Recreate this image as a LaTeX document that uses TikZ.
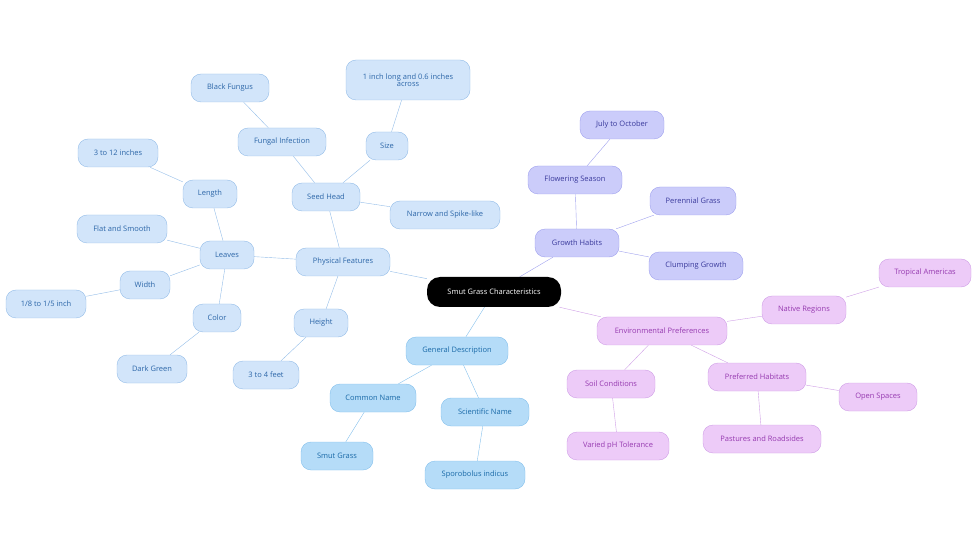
\documentclass[tikz,border=0pt]{standalone}
\usepackage{fontspec}
\setmainfont{Open Sans}
\usetikzlibrary{backgrounds}
\definecolor{phyfill}{HTML}{D2E5FA}\definecolor{phydraw}{HTML}{94BDE8}\definecolor{phytext}{HTML}{2C66A8}
\definecolor{genfill}{HTML}{B5DCF8}\definecolor{gendraw}{HTML}{84C0EC}\definecolor{gentext}{HTML}{1A6AA8}
\definecolor{grofill}{HTML}{CBCCFA}\definecolor{grodraw}{HTML}{A0A1EE}\definecolor{grotext}{HTML}{3A3A9C}
\definecolor{envfill}{HTML}{EDCBF8}\definecolor{envdraw}{HTML}{CF9FE6}\definecolor{envtext}{HTML}{963AB0}
\begin{document}
\begin{tikzpicture}[x=1pt,y=-1pt,font=\fontsize{7.5}{8.5}\selectfont]
    \tikzset{bubble/.style={rounded corners=10pt, minimum height=28pt, inner sep=2pt, align=center},
        phy/.style={bubble, fill=phyfill, draw=phydraw, text=phytext},
        gen/.style={bubble, fill=genfill, draw=gendraw, text=gentext},
        gro/.style={bubble, fill=grofill, draw=grodraw, text=grotext},
        env/.style={bubble, fill=envfill, draw=envdraw, text=envtext}}
    \useasboundingbox (0,0) rectangle (980,553);
    \node (root) [bubble, fill=black, text=white, minimum width=134pt, minimum height=30pt, rounded corners=13pt] at (494,292) {Smut Grass Characteristics};
    % physical features
    \node (phys) [phy, minimum width=94pt] at (343,262) {Physical Features};
    \node (seed) [phy, minimum width=68pt] at (326,197) {Seed Head};
    \node (size) [phy, minimum width=42pt] at (387,146) {Size};
    \node (inch) [phy, minimum width=124pt, minimum height=40pt] at (408,80) {1 inch long and 0.6 inches\\[-2pt]across};
    \node (spike) [phy, minimum width=110pt] at (445,215) {Narrow and Spike-like};
    \node (fung) [phy, minimum width=88pt] at (282,142) {Fungal Infection};
    \node (black) [phy, minimum width=78pt] at (230,88) {Black Fungus};
    \node (leaves) [phy, minimum width=54pt] at (227,255) {Leaves};
    \node (length) [phy, minimum width=54pt] at (210,194) {Length};
    \node (lenval) [phy, minimum width=80pt] at (118,153) {3 to 12 inches};
    \node (flat) [phy, minimum width=90pt] at (122,229) {Flat and Smooth};
    \node (width) [phy, minimum width=50pt] at (145,285) {Width};
    \node (widval) [phy, minimum width=80pt] at (46,304) {1/8 to 1/5 inch};
    \node (color) [phy, minimum width=48pt] at (217,318) {Color};
    \node (green) [phy, minimum width=70pt] at (152,369) {Dark Green};
    \node (height) [phy, minimum width=54pt] at (321,323) {Height};
    \node (feet) [phy, minimum width=66pt] at (266,375) {3 to 4 feet};
    % general description
    \node (gen) [gen, minimum width=102pt] at (457,351) {General Description};
    \node (common) [gen, minimum width=86pt] at (373,398) {Common Name};
    \node (smut) [gen, minimum width=72pt] at (337,456) {Smut Grass};
    \node (sci) [gen, minimum width=88pt] at (485,412) {Scientific Name};
    \node (sporo) [gen, minimum width=100pt] at (475,475) {Sporobolus indicus};
    % growth habits
    \node (growth) [gro, minimum width=84pt] at (577,243) {Growth Habits};
    \node (flower) [gro, minimum width=94pt] at (575,180) {Flowering Season};
    \node (july) [gro, minimum width=84pt] at (622,125) {July to October};
    \node (peren) [gro, minimum width=86pt] at (693,201) {Perennial Grass};
    \node (clump) [gro, minimum width=94pt] at (696,266) {Clumping Growth};
    % environmental preferences
    \node (env) [env, minimum width=130pt] at (662,331) {Environmental Preferences};
    \node (native) [env, minimum width=84pt] at (804,310) {Native Regions};
    \node (trop) [env, minimum width=92pt] at (925,273) {Tropical Americas};
    \node (soil) [env, minimum width=88pt] at (611,384) {Soil Conditions};
    \node (ph) [env, minimum width=102pt] at (618,446) {Varied pH Tolerance};
    \node (habit) [env, minimum width=98pt] at (757,377) {Preferred Habitats};
    \node (open) [env, minimum width=78pt] at (878,397) {Open Spaces};
    \node (past) [env, minimum width=118pt] at (762,439) {Pastures and Roadsides};
    \begin{pgfonlayer}{background}
    \foreach \a/\b in {root/phys,phys/seed,seed/size,size/inch,seed/spike,seed/fung,fung/black,phys/leaves,leaves/length,length/lenval,leaves/flat,leaves/width,width/widval,leaves/color,color/green,phys/height,height/feet}
        \draw [phydraw] (\a) -- (\b);
    \foreach \a/\b in {root/gen,gen/common,common/smut,gen/sci,sci/sporo}
        \draw [gendraw] (\a) -- (\b);
    \foreach \a/\b in {root/growth,growth/flower,flower/july,growth/peren,growth/clump}
        \draw [grodraw] (\a) -- (\b);
    \foreach \a/\b in {root/env,env/native,native/trop,env/soil,soil/ph,env/habit,habit/open,habit/past}
        \draw [envdraw] (\a) -- (\b);
    \end{pgfonlayer}
\end{tikzpicture}
\end{document}
